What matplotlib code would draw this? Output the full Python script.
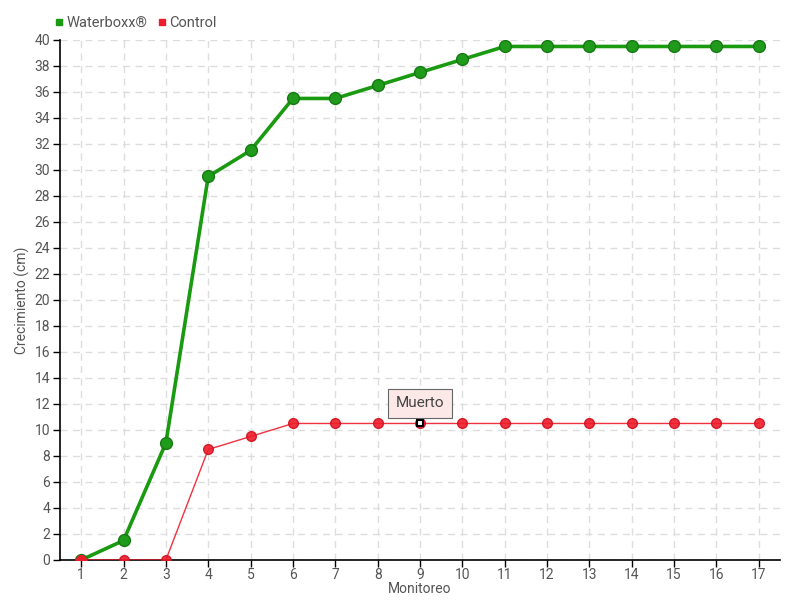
import matplotlib
matplotlib.use("Agg")
import matplotlib.pyplot as plt
from matplotlib.lines import Line2D

monitoreo = list(range(1, 18))
waterboxx = [0, 1.5, 9, 29.5, 31.5, 35.5, 35.5, 36.5, 37.5, 38.5, 39.5, 39.5, 39.5, 39.5, 39.5, 39.5, 39.5]
control = [0, 0, 0, 8.5, 9.5, 10.5, 10.5, 10.5, 10.5, 10.5, 10.5, 10.5, 10.5, 10.5, 10.5, 10.5, 10.5]
y_ticks = list(range(0, 41, 2))

plt.rcParams['font.family'] = ['Roboto', 'DejaVu Sans']
txt = '#555555'

fig = plt.figure(figsize=(8, 6), dpi=100)
ax = fig.add_axes([0.075, 0.0667, 0.9, 0.8667])

ax.plot(monitoreo, control, color='#ee1c2a', lw=1, marker='o', ms=7,
        markerfacecolor='#ee1c2a', markeredgecolor='#d01020', alpha=0.9, zorder=3)
ax.plot(monitoreo, waterboxx, color='#1a9a10', lw=2.6, marker='o', ms=8.5,
        markerfacecolor='#1f9a1a', markeredgecolor='#157a12', zorder=4)
ax.plot([1], [control[0]], 'o', ms=7, color='#ee1c2a', zorder=5)

# hover marker at point 9
ax.plot([9], [control[8]], marker='s', ms=5, markerfacecolor='white',
        markeredgecolor='black', markeredgewidth=1.5, zorder=6)
ax.annotate('Muerto', xy=(9, control[8]), xytext=(9, 12.05), ha='center', va='center',
            fontsize=11, color='#444444',
            bbox=dict(boxstyle='square,pad=0.5', fc='#fde8e8', ec='#666666', lw=0.8),
            zorder=7)

ax.set_xlim(0.5, 17.5)
ax.set_ylim(0, 40)
ax.set_xticks(monitoreo)
ax.set_yticks(y_ticks)
ax.tick_params(axis='both', colors='black', labelcolor=txt, labelsize=10, length=5, width=1)
ax.tick_params(axis='y', pad=2)
ax.tick_params(axis='x', pad=0.5)
ax.grid(True, color='#dddddd', linestyle=(0, (5, 4)), lw=1)
ax.set_axisbelow(True)
for s in ['top', 'right']:
    ax.spines[s].set_visible(False)
for s in ['left', 'bottom']:
    ax.spines[s].set_color('black')
    ax.spines[s].set_linewidth(1.2)

ax.set_xlabel('Monitoreo', fontsize=10, color=txt)
ax.set_ylabel('Crecimiento (cm)', fontsize=10, color=txt)
ax.xaxis.set_label_coords(0.5, -0.043)
ax.yaxis.set_label_coords(-0.042, 0.5)

handles = [Line2D([], [], marker='s', ls='', color='#1a9a10', ms=5),
           Line2D([], [], marker='s', ls='', color='#ee1c2a', ms=5)]
fig.legend(handles, ['Waterboxx®', 'Control'], loc='upper left', bbox_to_anchor=(0.05, 0.995),
           ncol=2, frameon=False, fontsize=10.5, labelcolor=txt, handletextpad=0.1,
           columnspacing=0.6, handlelength=0.8)

fig.savefig('out.png', dpi=100)
